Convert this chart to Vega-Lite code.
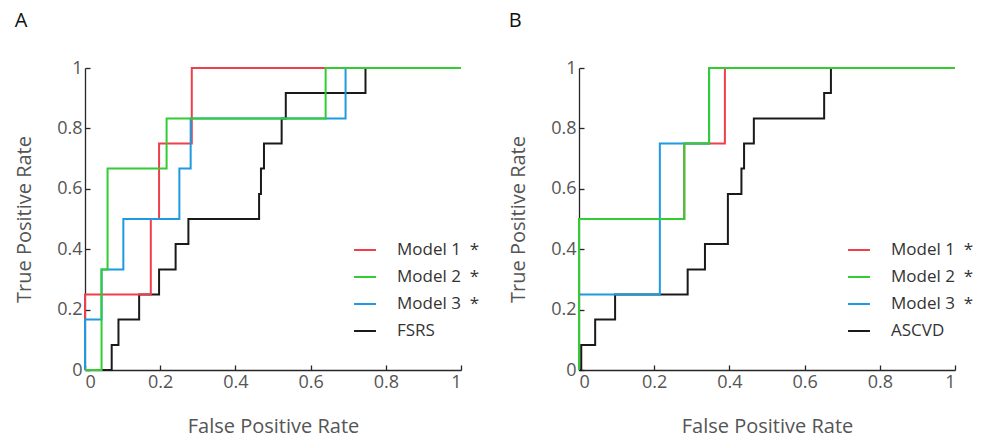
{
  "$schema": "https://vega.github.io/schema/vega-lite/v6.json",
  "padding": {"left": 14, "top": 11, "right": 5, "bottom": 5},
  "background": "white",
  "config": {
    "view": {"stroke": null},
    "font": "Open Sans",
    "axis": {
      "grid": false,
      "domainColor": "#262626",
      "domainWidth": 1.3,
      "tickColor": "#262626",
      "tickWidth": 1.3,
      "tickSize": -5,
      "labelPadding": 8,
      "labelFontSize": 18,
      "labelColor": "#555555",
      "labelFont": "Open Sans",
      "titleFontSize": 20,
      "titleFontWeight": "normal",
      "titleColor": "#555555",
      "titleFont": "Open Sans"
    },
    "legend": {
      "labelFontSize": 17,
      "labelColor": "#333333",
      "labelFont": "Open Sans",
      "symbolType": "stroke",
      "symbolSize": 480,
      "symbolStrokeWidth": 2,
      "rowPadding": 7,
      "labelOffset": 20,
      "title": null
    },
    "title": {"fontSize": 20, "fontWeight": "normal", "font": "Open Sans", "color": "#111111", "anchor": "start", "offset": 28}
  },
  "data": {
    "values": [
      {"panel": "A", "model": "FSRS", "i": 0, "fpr": 0, "tpr": 0},
      {"panel": "A", "model": "FSRS", "i": 1, "fpr": 0.071, "tpr": 0},
      {"panel": "A", "model": "FSRS", "i": 2, "fpr": 0.071, "tpr": 0.083},
      {"panel": "A", "model": "FSRS", "i": 3, "fpr": 0.089, "tpr": 0.083},
      {"panel": "A", "model": "FSRS", "i": 4, "fpr": 0.089, "tpr": 0.167},
      {"panel": "A", "model": "FSRS", "i": 5, "fpr": 0.144, "tpr": 0.167},
      {"panel": "A", "model": "FSRS", "i": 6, "fpr": 0.144, "tpr": 0.25},
      {"panel": "A", "model": "FSRS", "i": 7, "fpr": 0.197, "tpr": 0.25},
      {"panel": "A", "model": "FSRS", "i": 8, "fpr": 0.197, "tpr": 0.333},
      {"panel": "A", "model": "FSRS", "i": 9, "fpr": 0.241, "tpr": 0.333},
      {"panel": "A", "model": "FSRS", "i": 10, "fpr": 0.241, "tpr": 0.417},
      {"panel": "A", "model": "FSRS", "i": 11, "fpr": 0.275, "tpr": 0.417},
      {"panel": "A", "model": "FSRS", "i": 12, "fpr": 0.275, "tpr": 0.5},
      {"panel": "A", "model": "FSRS", "i": 13, "fpr": 0.463, "tpr": 0.5},
      {"panel": "A", "model": "FSRS", "i": 14, "fpr": 0.463, "tpr": 0.583},
      {"panel": "A", "model": "FSRS", "i": 15, "fpr": 0.468, "tpr": 0.583},
      {"panel": "A", "model": "FSRS", "i": 16, "fpr": 0.468, "tpr": 0.667},
      {"panel": "A", "model": "FSRS", "i": 17, "fpr": 0.476, "tpr": 0.667},
      {"panel": "A", "model": "FSRS", "i": 18, "fpr": 0.476, "tpr": 0.75},
      {"panel": "A", "model": "FSRS", "i": 19, "fpr": 0.523, "tpr": 0.75},
      {"panel": "A", "model": "FSRS", "i": 20, "fpr": 0.523, "tpr": 0.833},
      {"panel": "A", "model": "FSRS", "i": 21, "fpr": 0.534, "tpr": 0.833},
      {"panel": "A", "model": "FSRS", "i": 22, "fpr": 0.534, "tpr": 0.917},
      {"panel": "A", "model": "FSRS", "i": 23, "fpr": 0.746, "tpr": 0.917},
      {"panel": "A", "model": "FSRS", "i": 24, "fpr": 0.746, "tpr": 1},
      {"panel": "A", "model": "FSRS", "i": 25, "fpr": 1, "tpr": 1},
      {"panel": "A", "model": "Model 1", "i": 0, "fpr": 0, "tpr": 0},
      {"panel": "A", "model": "Model 1", "i": 1, "fpr": 0, "tpr": 0.25},
      {"panel": "A", "model": "Model 1", "i": 2, "fpr": 0.175, "tpr": 0.25},
      {"panel": "A", "model": "Model 1", "i": 3, "fpr": 0.175, "tpr": 0.5},
      {"panel": "A", "model": "Model 1", "i": 4, "fpr": 0.197, "tpr": 0.5},
      {"panel": "A", "model": "Model 1", "i": 5, "fpr": 0.197, "tpr": 0.75},
      {"panel": "A", "model": "Model 1", "i": 6, "fpr": 0.284, "tpr": 0.75},
      {"panel": "A", "model": "Model 1", "i": 7, "fpr": 0.284, "tpr": 1},
      {"panel": "A", "model": "Model 1", "i": 8, "fpr": 1, "tpr": 1},
      {"panel": "A", "model": "Model 3", "i": 0, "fpr": 0, "tpr": 0},
      {"panel": "A", "model": "Model 3", "i": 1, "fpr": 0, "tpr": 0.167},
      {"panel": "A", "model": "Model 3", "i": 2, "fpr": 0.044, "tpr": 0.167},
      {"panel": "A", "model": "Model 3", "i": 3, "fpr": 0.044, "tpr": 0.333},
      {"panel": "A", "model": "Model 3", "i": 4, "fpr": 0.102, "tpr": 0.333},
      {"panel": "A", "model": "Model 3", "i": 5, "fpr": 0.102, "tpr": 0.5},
      {"panel": "A", "model": "Model 3", "i": 6, "fpr": 0.251, "tpr": 0.5},
      {"panel": "A", "model": "Model 3", "i": 7, "fpr": 0.251, "tpr": 0.667},
      {"panel": "A", "model": "Model 3", "i": 8, "fpr": 0.281, "tpr": 0.667},
      {"panel": "A", "model": "Model 3", "i": 9, "fpr": 0.281, "tpr": 0.833},
      {"panel": "A", "model": "Model 3", "i": 10, "fpr": 0.693, "tpr": 0.833},
      {"panel": "A", "model": "Model 3", "i": 11, "fpr": 0.693, "tpr": 1},
      {"panel": "A", "model": "Model 3", "i": 12, "fpr": 1, "tpr": 1},
      {"panel": "A", "model": "Model 2", "i": 0, "fpr": 0, "tpr": 0},
      {"panel": "A", "model": "Model 2", "i": 1, "fpr": 0.044, "tpr": 0},
      {"panel": "A", "model": "Model 2", "i": 2, "fpr": 0.044, "tpr": 0.333},
      {"panel": "A", "model": "Model 2", "i": 3, "fpr": 0.06, "tpr": 0.333},
      {"panel": "A", "model": "Model 2", "i": 4, "fpr": 0.06, "tpr": 0.667},
      {"panel": "A", "model": "Model 2", "i": 5, "fpr": 0.217, "tpr": 0.667},
      {"panel": "A", "model": "Model 2", "i": 6, "fpr": 0.217, "tpr": 0.833},
      {"panel": "A", "model": "Model 2", "i": 7, "fpr": 0.64, "tpr": 0.833},
      {"panel": "A", "model": "Model 2", "i": 8, "fpr": 0.64, "tpr": 1},
      {"panel": "A", "model": "Model 2", "i": 9, "fpr": 1, "tpr": 1},
      {"panel": "B", "model": "ASCVD", "i": 0, "fpr": 0, "tpr": 0},
      {"panel": "B", "model": "ASCVD", "i": 1, "fpr": 0.006, "tpr": 0},
      {"panel": "B", "model": "ASCVD", "i": 2, "fpr": 0.006, "tpr": 0.083},
      {"panel": "B", "model": "ASCVD", "i": 3, "fpr": 0.043, "tpr": 0.083},
      {"panel": "B", "model": "ASCVD", "i": 4, "fpr": 0.043, "tpr": 0.167},
      {"panel": "B", "model": "ASCVD", "i": 5, "fpr": 0.096, "tpr": 0.167},
      {"panel": "B", "model": "ASCVD", "i": 6, "fpr": 0.096, "tpr": 0.25},
      {"panel": "B", "model": "ASCVD", "i": 7, "fpr": 0.289, "tpr": 0.25},
      {"panel": "B", "model": "ASCVD", "i": 8, "fpr": 0.289, "tpr": 0.333},
      {"panel": "B", "model": "ASCVD", "i": 9, "fpr": 0.335, "tpr": 0.333},
      {"panel": "B", "model": "ASCVD", "i": 10, "fpr": 0.335, "tpr": 0.417},
      {"panel": "B", "model": "ASCVD", "i": 11, "fpr": 0.396, "tpr": 0.417},
      {"panel": "B", "model": "ASCVD", "i": 12, "fpr": 0.396, "tpr": 0.583},
      {"panel": "B", "model": "ASCVD", "i": 13, "fpr": 0.432, "tpr": 0.583},
      {"panel": "B", "model": "ASCVD", "i": 14, "fpr": 0.432, "tpr": 0.667},
      {"panel": "B", "model": "ASCVD", "i": 15, "fpr": 0.439, "tpr": 0.667},
      {"panel": "B", "model": "ASCVD", "i": 16, "fpr": 0.439, "tpr": 0.75},
      {"panel": "B", "model": "ASCVD", "i": 17, "fpr": 0.465, "tpr": 0.75},
      {"panel": "B", "model": "ASCVD", "i": 18, "fpr": 0.465, "tpr": 0.833},
      {"panel": "B", "model": "ASCVD", "i": 19, "fpr": 0.652, "tpr": 0.833},
      {"panel": "B", "model": "ASCVD", "i": 20, "fpr": 0.652, "tpr": 0.917},
      {"panel": "B", "model": "ASCVD", "i": 21, "fpr": 0.67, "tpr": 0.917},
      {"panel": "B", "model": "ASCVD", "i": 22, "fpr": 0.67, "tpr": 1},
      {"panel": "B", "model": "ASCVD", "i": 23, "fpr": 1, "tpr": 1},
      {"panel": "B", "model": "Model 1", "i": 0, "fpr": 0, "tpr": 0},
      {"panel": "B", "model": "Model 1", "i": 1, "fpr": 0, "tpr": 0.5},
      {"panel": "B", "model": "Model 1", "i": 2, "fpr": 0.28, "tpr": 0.5},
      {"panel": "B", "model": "Model 1", "i": 3, "fpr": 0.28, "tpr": 0.75},
      {"panel": "B", "model": "Model 1", "i": 4, "fpr": 0.388, "tpr": 0.75},
      {"panel": "B", "model": "Model 1", "i": 5, "fpr": 0.388, "tpr": 1},
      {"panel": "B", "model": "Model 1", "i": 6, "fpr": 1, "tpr": 1},
      {"panel": "B", "model": "Model 3", "i": 0, "fpr": 0, "tpr": 0},
      {"panel": "B", "model": "Model 3", "i": 1, "fpr": 0, "tpr": 0.25},
      {"panel": "B", "model": "Model 3", "i": 2, "fpr": 0.215, "tpr": 0.25},
      {"panel": "B", "model": "Model 3", "i": 3, "fpr": 0.215, "tpr": 0.75},
      {"panel": "B", "model": "Model 3", "i": 4, "fpr": 0.346, "tpr": 0.75},
      {"panel": "B", "model": "Model 3", "i": 5, "fpr": 0.346, "tpr": 1},
      {"panel": "B", "model": "Model 3", "i": 6, "fpr": 1, "tpr": 1},
      {"panel": "B", "model": "Model 2", "i": 0, "fpr": 0, "tpr": 0},
      {"panel": "B", "model": "Model 2", "i": 1, "fpr": 0, "tpr": 0.5},
      {"panel": "B", "model": "Model 2", "i": 2, "fpr": 0.28, "tpr": 0.5},
      {"panel": "B", "model": "Model 2", "i": 3, "fpr": 0.28, "tpr": 0.75},
      {"panel": "B", "model": "Model 2", "i": 4, "fpr": 0.346, "tpr": 0.75},
      {"panel": "B", "model": "Model 2", "i": 5, "fpr": 0.346, "tpr": 1},
      {"panel": "B", "model": "Model 2", "i": 6, "fpr": 1, "tpr": 1}
    ]
  },
  "spacing": 28,
  "resolve": {"scale": {"color": "independent"}, "legend": {"color": "independent"}},
  "hconcat": [
    {
      "title": {"text": "A"},
      "width": 376,
      "height": 302,
      "transform": [{"filter": "datum.panel == 'A'"}],
      "mark": {"type": "line", "strokeWidth": 2, "interpolate": "linear"},
      "encoding": {
        "x": {"field": "fpr", "type": "quantitative", "scale": {"domain": [0, 1], "nice": false, "zero": false}, "axis": {"title": "False Positive Rate", "values": [0, 0.2, 0.4, 0.6, 0.8, 1], "format": "~g", "titlePadding": 25}},
        "y": {"field": "tpr", "type": "quantitative", "scale": {"domain": [0, 1], "nice": false, "zero": false}, "axis": {"title": "True Positive Rate", "values": [0, 0.2, 0.4, 0.6, 0.8, 1], "format": "~g", "titlePadding": 22}},
        "order": {"field": "i", "type": "quantitative"},
        "color": {
          "field": "model", "type": "nominal",
          "scale": {"domain": ["Model 1", "Model 2", "Model 3", "FSRS"], "range": ["#ee3f4a", "#33cc33", "#1e9ae0", "#1a1a1a"]},
          "legend": {"orient": "none", "legendX": 268, "legendY": 170, "labelExpr": "datum.label == 'FSRS' ? datum.label : datum.label + '\u00a0\u00a0*'"}
        }
      }
    },
    {
      "title": {"text": "B"},
      "width": 376,
      "height": 302,
      "transform": [{"filter": "datum.panel == 'B'"}],
      "mark": {"type": "line", "strokeWidth": 2, "interpolate": "linear"},
      "encoding": {
        "x": {"field": "fpr", "type": "quantitative", "scale": {"domain": [0, 1], "nice": false, "zero": false}, "axis": {"title": "False Positive Rate", "values": [0, 0.2, 0.4, 0.6, 0.8, 1], "format": "~g", "titlePadding": 25}},
        "y": {"field": "tpr", "type": "quantitative", "scale": {"domain": [0, 1], "nice": false, "zero": false}, "axis": {"title": "True Positive Rate", "values": [0, 0.2, 0.4, 0.6, 0.8, 1], "format": "~g", "titlePadding": 22}},
        "order": {"field": "i", "type": "quantitative"},
        "color": {
          "field": "model", "type": "nominal",
          "scale": {"domain": ["Model 1", "Model 2", "Model 3", "ASCVD"], "range": ["#ee3f4a", "#33cc33", "#1e9ae0", "#1a1a1a"]},
          "legend": {"orient": "none", "legendX": 268, "legendY": 170, "labelExpr": "datum.label == 'ASCVD' ? datum.label : datum.label + '\u00a0\u00a0*'"}
        }
      }
    }
  ]
}
